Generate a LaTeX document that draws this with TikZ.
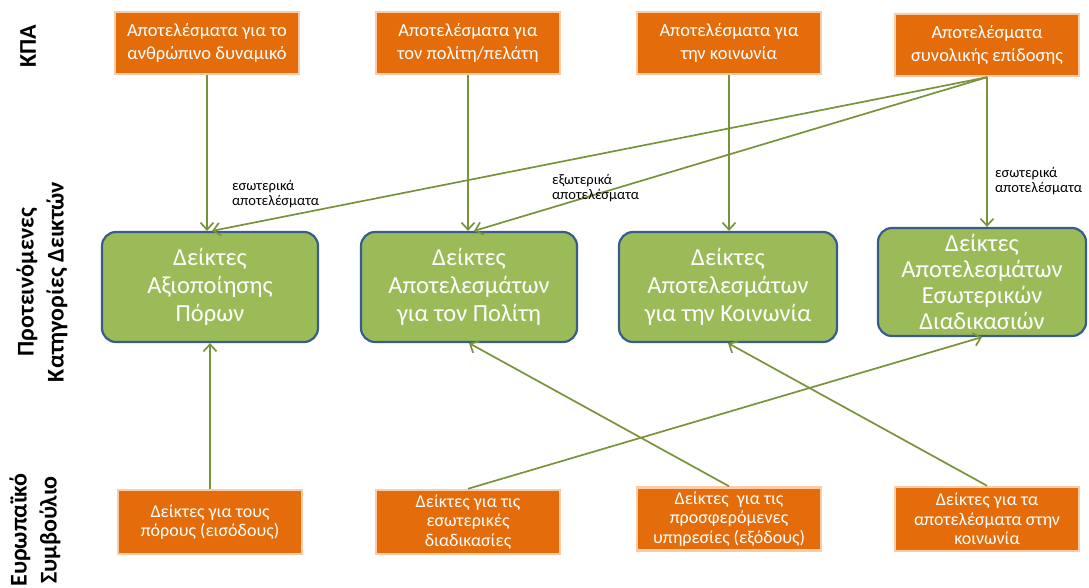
\documentclass[tikz,border=0pt]{standalone}
\usepackage{fontspec}
\setmainfont{Carlito}
\usetikzlibrary{arrows.meta}
\definecolor{kpaorange}{HTML}{E46C0A}
\definecolor{kpaglow}{HTML}{F9CBA6}
\definecolor{boxgreen}{HTML}{9BBB59}
\definecolor{boxblue}{HTML}{385D8A}
\definecolor{linkgreen}{HTML}{77933C}
\begin{document}
\begin{tikzpicture}[x=1pt,y=-1pt,
  srcbox/.style={fill=kpaorange, draw=kpaglow, line width=2.5pt, text=white,
    align=center, inner sep=0pt, minimum width=184pt, minimum height=62pt},
  topbox/.style={srcbox, font=\fontsize{18.5}{22.5}\selectfont},
  botbox/.style={srcbox, font=\fontsize{18}{19.5}\selectfont},
  catbox/.style={fill=boxgreen, draw=boxblue, line width=2.2pt, rounded corners=14pt,
    text=white, align=center, inner sep=0pt, minimum width=216pt, minimum height=110pt,
    font=\fontsize{24.5}{28}\selectfont},
  link/.style={draw=linkgreen, line width=1.7pt, -{Straight Barb[length=7pt,width=13pt,line width=1.7pt]}},
  note/.style={font=\fontsize{14.5}{15.5}\selectfont, align=left, inner sep=0pt, anchor=north west},
  side/.style={rotate=90, font=\fontsize{24}{30}\selectfont\bfseries, align=center, inner sep=0pt}
]
\useasboundingbox (0,0) rectangle (1089,587);

% side titles
\node[side] (kpa) at (28,46) {ΚΠΑ};
\node[side] (prop) at (42,282) {Προτεινόμενες\\Κατηγορίες  Δεικτών};
\node[side] (eu) at (35,530) {Ευρωπαϊκό\\Συμβούλιο};

% top row
\node[topbox] (t1) at (207,43) {Αποτελέσματα για το\\ανθρώπινο δυναμικό};
\node[topbox] (t2) at (468,43) {Αποτελέσματα για\\τον πολίτη/πελάτη};
\node[topbox] (t3) at (729,43) {Αποτελέσματα για\\την κοινωνία};
\node[topbox] (t4) at (987,45) {Αποτελέσματα\\συνολικής επίδοσης};

% indicator categories
\node[catbox] (g1) at (210,287) {Δείκτες\\Αξιοποίησης\\Πόρων};
\node[catbox] (g2) at (469,287) {Δείκτες\\Αποτελεσμάτων\\για τον Πολίτη};
\node[catbox, minimum width=218pt] (g3) at (728,287) {Δείκτες\\Αποτελεσμάτων\\για την Κοινωνία};
\node[catbox, minimum width=208pt, minimum height=108pt, font=\fontsize{24.5}{26}\selectfont] (g4) at (982,282)
  {Δείκτες\\Αποτελεσμάτων\\Εσωτερικών\\Διαδικασιών};

% bottom row
\node[botbox, minimum height=64pt] (b1) at (210,522) {Δείκτες για τους\\πόρους (εισόδους)};
\node[botbox, minimum height=64pt] (b2) at (468,522) {Δείκτες για τις\\εσωτερικές\\διαδικασίες};
\node[botbox, minimum height=63pt] (b3) at (729,519) {Δείκτες \ για τις\\προσφερόμενες\\υπηρεσίες (εξόδους)};
\node[botbox, minimum height=64pt] (b4) at (987,519) {Δείκτες για τα\\αποτελέσματα στην\\κοινωνία};

% connectors from the top row
\draw[link] (t1.south) -- (t1.south |- g1.north);
\draw[link] (t2.south) -- (t2.south |- g2.north);
\draw[link] (t3.south) -- (t3.south |- g3.north);
\draw[link] (t4.south) -- (t4.south |- g4.north);
\draw[link] (t4.south) -- ([xshift=2pt]g1.north);
\draw[link] (t4.south) -- ([xshift=5pt]g2.north);

% connector labels
\node[note] (n1) at (232,180) {εσωτερικά\\αποτελέσματα};
\node[note] (n2) at (552,174) {εξωτερικά\\αποτελέσματα};
\node[note] (n3) at (995,167) {εσωτερικά\\αποτελέσματα};

% connectors from the bottom row
\draw[link] (b1.north) -- (b1.north |- g1.south);
\draw[link] (b2.north) -- (g4.south);
\draw[link] (b3.north) -- (g2.south);
\draw[link] (b4.north) -- (g3.south);
\end{tikzpicture}
\end{document}
